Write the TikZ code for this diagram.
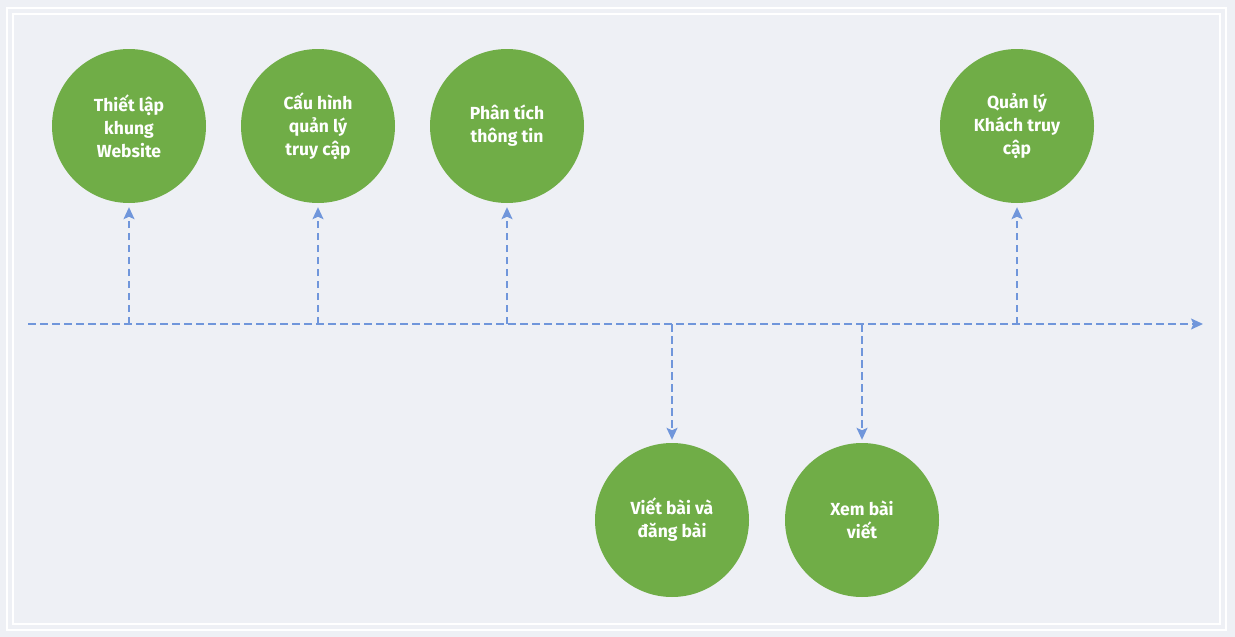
\documentclass[tikz,border=0pt]{standalone}
\usepackage{fontspec}
\setmainfont{Fira Sans}
\usetikzlibrary{arrows.meta}
\definecolor{bgcol}{HTML}{EEF0F5}
\definecolor{stepgreen}{HTML}{70AD47}
\definecolor{linkblue}{HTML}{7096DB}
\tikzset{
  stepnode/.style={circle,fill=stepgreen,minimum size=154pt,inner sep=0pt,
    text=white,font=\bfseries\fontsize{17.5}{23}\selectfont,align=center},
  linkline/.style={linkblue,line width=1.8pt,dash pattern=on 7.5pt off 4.5pt,
    -{Stealth[length=12pt,width=11pt,inset=2.5pt]}}
}
\begin{document}
\begin{tikzpicture}[x=1pt,y=-1pt]
        \fill[bgcol] (0,0) rectangle (1235,637);
        \useasboundingbox (0,0) rectangle (1235,637);
        \draw[white,line width=1.2pt] (7,8) rectangle (1226,630);
        \draw[white,line width=1.2pt] (13,14) rectangle (1220,624);

        \node[stepnode] (website) at (129,126) {Thiết lập\\khung\\Website};
        \node[stepnode] (truycap) at (318,126) {Cấu hình\\quản lý\\truy cập};
        \node[stepnode] (phantich) at (507,126) {Phân tích\\thông tin};
        \node[stepnode] (khach) at (1017,126) {Quản lý\\Khách truy\\cập};
        \node[stepnode] (vietbai) at (672,520) {Viết bài và\\đăng bài};
        \node[stepnode] (xembai) at (862,520) {Xem bài\\viết};

        \coordinate (start) at (28,324);
        \coordinate (end) at (1203,324);
        \draw[linkline] (start) -- (end);
        \foreach \n in {website,truycap,phantich,khach}
          \draw[linkline,shorten >=4pt] (\n |- start) -- (\n);
        \foreach \n in {vietbai,xembai}
          \draw[linkline,shorten >=3pt] (\n |- start) -- (\n);
    \end{tikzpicture}
\end{document}
